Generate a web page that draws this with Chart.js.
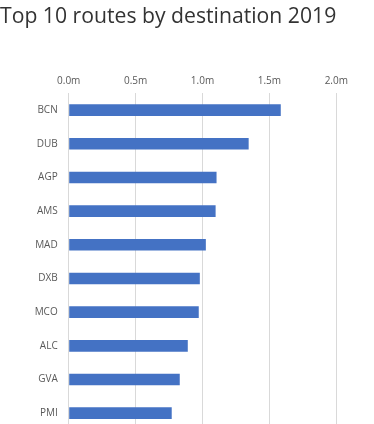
<!DOCTYPE html>
<html>
<head>
<meta charset="utf-8">
<script src="https://cdn.jsdelivr.net/npm/chart.js@4/dist/chart.umd.min.js"></script>
<style>
html,body{margin:0;padding:0;background:#fff;overflow:hidden;}
#wrap{position:relative;width:374px;height:430px;}
</style>
</head>
<body>
<div id="wrap"><canvas id="c" width="374" height="430"></canvas></div>
<script>
const titleText = "Top 10 routes by destination 2019";
const categories = ["BCN","DUB","AGP","AMS","MAD","DXB","MCO","ALC","GVA","PMI"];
const passengers = [1.585, 1.345, 1.105, 1.098, 1.025, 0.98, 0.972, 0.89, 0.83, 0.77];
const xTicks = [0, 0.5, 1.0, 1.5, 2.0];

const ctx = document.getElementById('c').getContext('2d');
new Chart(ctx, {
  type: 'bar',
  data: {
    labels: categories,
    datasets: [{
      data: passengers,
      backgroundColor: '#4472C4',
      borderWidth: 0,
      barPercentage: 0.69,
      categoryPercentage: 0.5
    }]
  },
  options: {
    indexAxis: 'y',
    responsive: false,
    animation: false,
    layout: { padding: { left: 0, right: 37.7, top: 0, bottom: 0 } },
    plugins: {
      legend: { display: false },
      tooltip: { enabled: false },
      title: {
        display: true,
        text: titleText,
        align: 'start',
        color: '#333333',
        font: { family: '"Open Sans", sans-serif', size: 22, weight: 'normal' },
        padding: { top: 4, bottom: 0 }
      }
    },
    scales: {
      x: {
        position: 'top',
        min: 0,
        max: 2.0,
        afterBuildTicks: (s) => { s.ticks = xTicks.map(v => ({ value: v })); },
        afterFit: (s) => { s.height = 93.3 - 30.4; s.paddingLeft = 0; s.paddingRight = 0; },
        ticks: {
          color: '#595959',
          font: { family: '"Open Sans", sans-serif', size: 10 },
          padding: 6.5,
          callback: (v) => Number(v).toFixed(1) + 'm'
        },
        grid: { color: '#d9d9d9', drawTicks: false, lineWidth: 1 },
        border: { display: false }
      },
      y: {
        afterFit: (s) => { s.width = 68.7; s.paddingTop = 0; s.paddingBottom = 0; },
        ticks: {
          color: '#595959',
          font: { family: '"Open Sans", sans-serif', size: 10 },
          padding: 11
        },
        grid: { display: false, drawTicks: false },
        border: { display: false }
      }
    }
  }
});
</script>
</body>
</html>
